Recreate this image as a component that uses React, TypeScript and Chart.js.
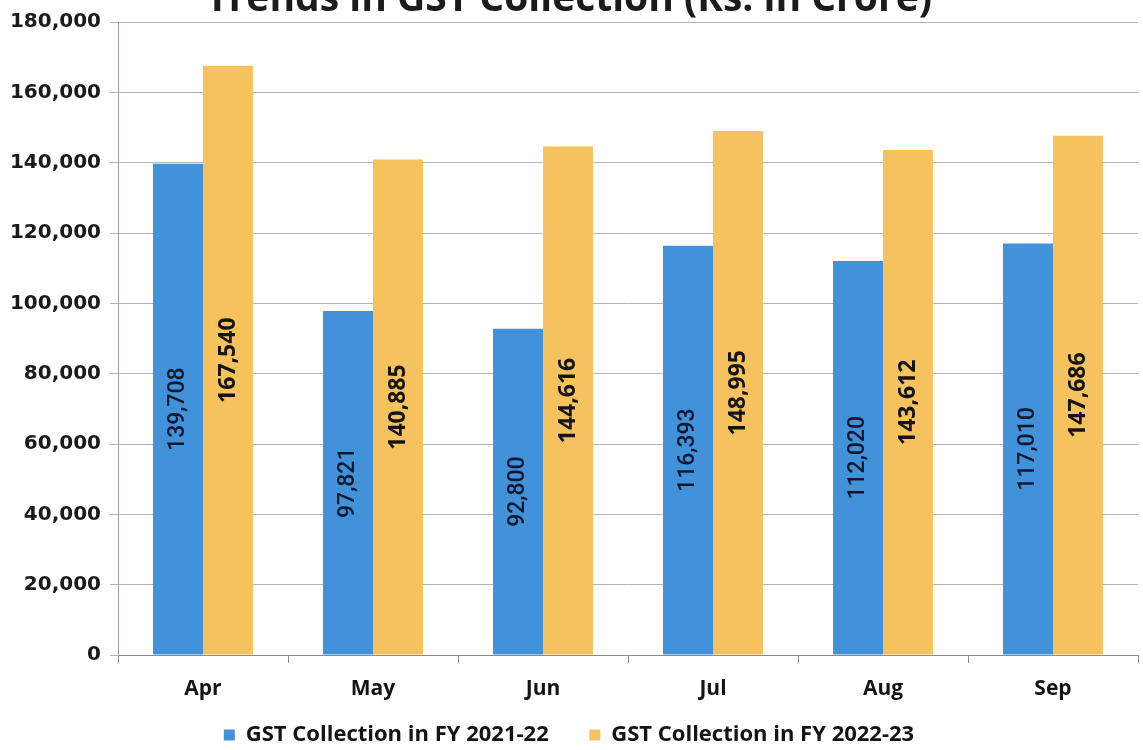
import React, { useEffect, useRef } from "react";
import { Chart, registerables } from "chart.js";

Chart.register(...registerables);

const months = ["Apr", "May", "Jun", "Jul", "Aug", "Sep"];
const fy2122 = [139708, 97821, 92800, 116393, 112020, 117010];
const fy2223 = [167540, 140885, 144616, 148995, 143612, 147686];
const seriesNames = ["GST Collection in FY 2021-22", "GST Collection in FY 2022-23"];
const yTicks = [0, 20000, 40000, 60000, 80000, 100000, 120000, 140000, 160000, 180000];
const titleText = "Trends in GST Collection (Rs. in Crore)";

const fmt = (v: number) => v.toLocaleString("en-US");

const barLabels = {
  id: "barLabels",
  afterDatasetsDraw(chart: any) {
    const ctx = chart.ctx;
    chart.data.datasets.forEach((ds: any, di: number) => {
      const meta = chart.getDatasetMeta(di);
      meta.data.forEach((bar: any, i: number) => {
        const v = ds.data[i];
        const cy = (bar.y + bar.base) / 2;
        ctx.save();
        ctx.translate(bar.x, cy);
        ctx.rotate(-Math.PI / 2);
        ctx.textAlign = "center";
        ctx.textBaseline = "middle";
        if (di === 0) {
          ctx.font = "500 23px Roboto, 'Open Sans'";
          ctx.fillStyle = "#0f1830";
        } else {
          ctx.font = "700 23px 'Open Sans'";
          ctx.fillStyle = "#141414";
        }
        ctx.fillText(fmt(v), 0, 0);
        ctx.restore();
      });
    });
  },
};

const T = 22;
const CH = 756 + T;
const LEGEND_PAD = 12;

export default function App() {
  const ref = useRef<HTMLCanvasElement>(null);
  useEffect(() => {
    document.body.style.margin = "0";
    const chart = new Chart(ref.current!, {
      type: "bar",
      data: {
        labels: months,
        datasets: [
          { label: seriesNames[0], data: fy2122, backgroundColor: "#4192d8", borderWidth: 0 },
          { label: seriesNames[1], data: fy2223, backgroundColor: "#f6c25e", borderWidth: 0 },
        ],
      },
      options: {
        responsive: false,
        animation: false,
        layout: { padding: { left: 0, right: 5, top: 0, bottom: 0 } },
        datasets: { bar: { categoryPercentage: 0.588, barPercentage: 1 } },
        plugins: {
          title: {
            display: true,
            text: titleText,
            color: "#1b1b1b",
            font: { family: "'Open Sans'", size: 39, weight: "bold", lineHeight: 44 / 39 },
            padding: { top: 0, bottom: 0 },
          },
          legend: {
            display: true,
            position: "bottom",
            labels: {
              color: "#141414",
              font: { family: "'Open Sans'", size: 22, weight: "bold" },
              boxWidth: 11,
              boxHeight: 11,
              padding: LEGEND_PAD,
              generateLabels: (c: any) => {
                const items = Chart.defaults.plugins.legend.labels.generateLabels(c);
                items.forEach((it: any, i: number) => {
                  if (i < items.length - 1) it.text = it.text + "\u00a0\u00a0\u00a0\u00a0\u00a0";
                });
                return items;
              },
            },
          },
          tooltip: { enabled: false },
        },
        scales: {
          x: {
            offset: true,
            afterFit: (s: any) => { s.height = 69 - LEGEND_PAD; },
            grid: {
              display: true,
              drawOnChartArea: false,
              drawTicks: true,
              tickLength: 8,
              color: "#8a8a95",
              offset: true,
            },
            border: { display: true, color: "#8a8a95", width: 1 },
            ticks: {
              color: "#141414",
              font: { family: "'Open Sans'", size: 21, weight: "bold" },
              padding: 13,
            },
          },
          y: {
            min: 0,
            max: 180000,
            afterFit: (s: any) => { s.width = 118; },
            afterBuildTicks: (s: any) => { s.ticks = yTicks.map((v) => ({ value: v })); },
            grid: { color: "#b3b3be", tickLength: 8, lineWidth: 1 },
            border: { display: true, color: "#9a9aa5", width: 1 },
            ticks: {
              color: "#1a1a1a",
              font: { family: "'DejaVu Sans'", size: 20, weight: "bold" },
              padding: 9,
              callback: (v: any) => fmt(Number(v)),
            },
          },
        },
      },
      plugins: [barLabels],
    });
    return () => chart.destroy();
  }, []);
  return (
    <div style={{ position: "absolute", left: 0, top: 0, width: 1143, height: 750, overflow: "hidden", background: "#fff" }}>
      <canvas ref={ref} width={1143} height={CH} style={{ position: "absolute", left: 0, top: -T, width: 1143, height: CH }} />
    </div>
  );
}
